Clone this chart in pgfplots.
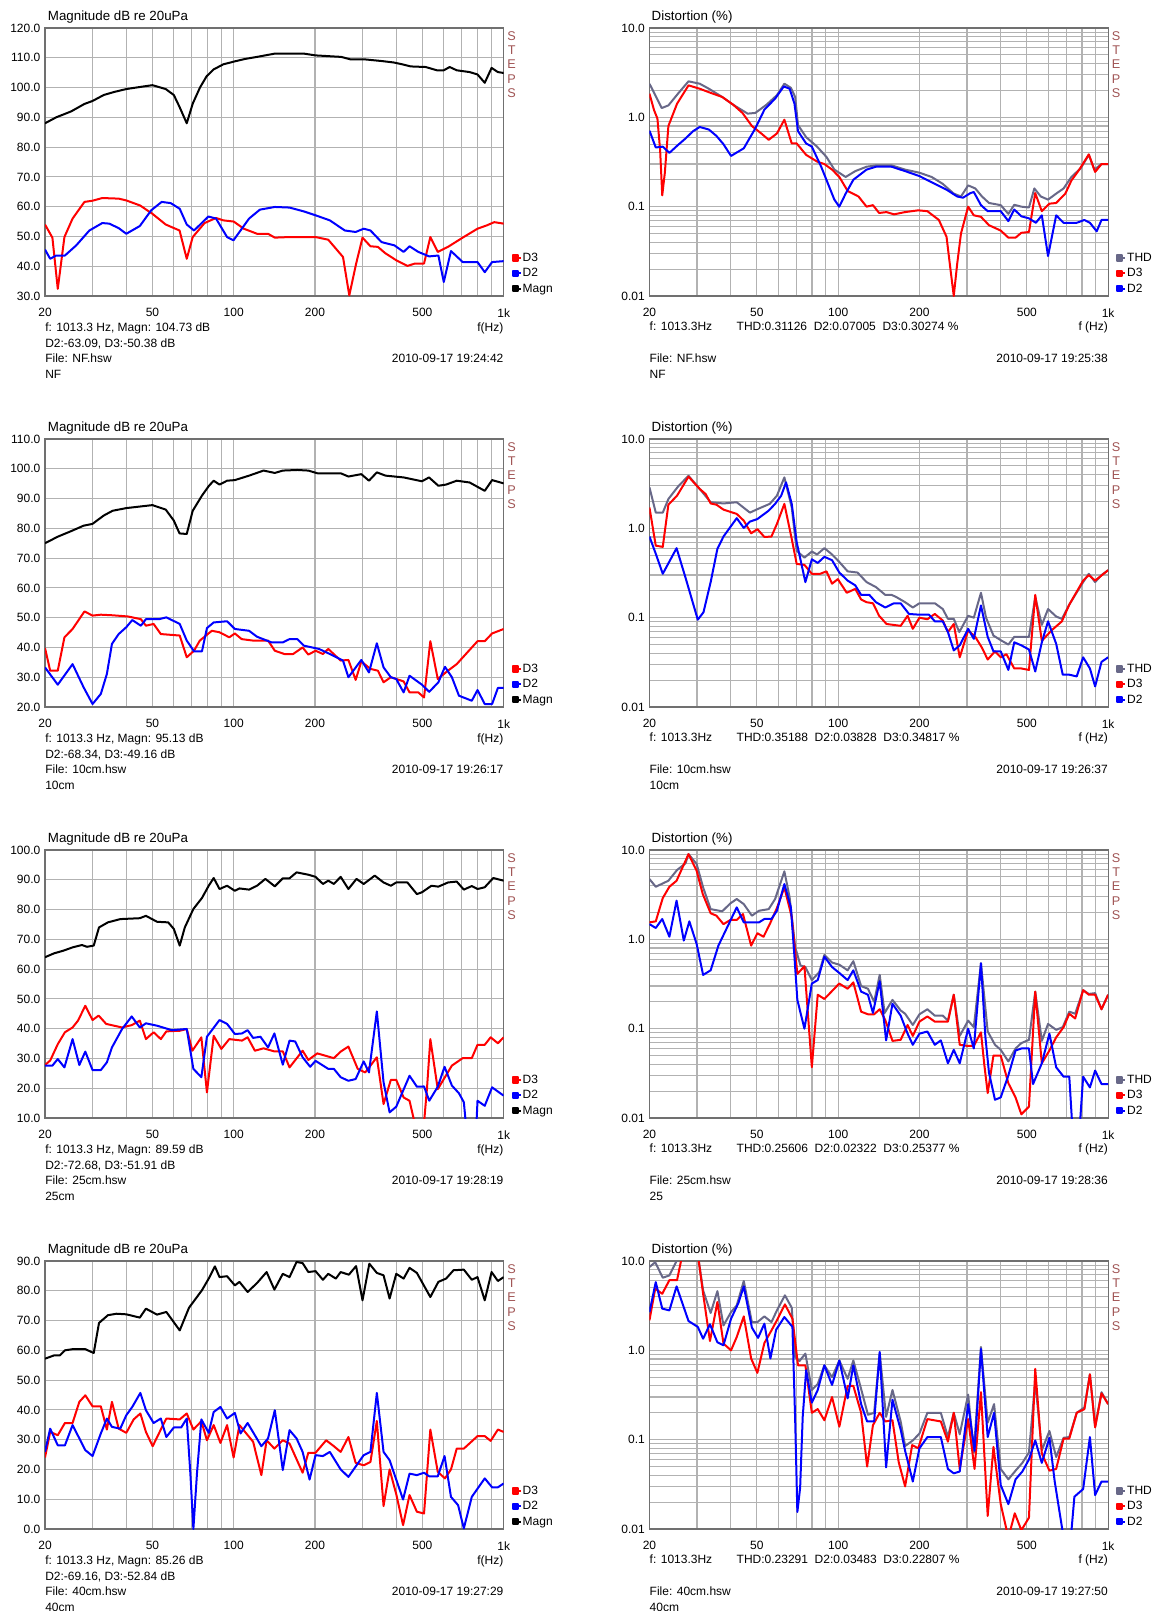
\documentclass[border=0pt]{standalone}
\usepackage{fontspec}
\setmainfont{Liberation Sans}
\usepackage{pgfplots}
\pgfplotsset{compat=1.18}

\definecolor{gridc}{RGB}{178,178,178}
\definecolor{framec}{RGB}{112,112,112}
\definecolor{stepc}{RGB}{160,84,84}
\definecolor{thdc}{RGB}{104,104,136}
\definecolor{d3c}{RGB}{255,0,0}
\definecolor{d2c}{RGB}{0,0,255}

\newcommand\lab{\fontsize{9}{10}\selectfont}
\newcommand\ttl{\fontsize{10}{12}\selectfont}

\pgfplotsset{
  every axis/.append style={
    scale only axis, width=344pt, height=201pt, anchor=north west,
    xmin=20, xmax=1000,
    xtick={20,50,100,200,500,1000}, xticklabels={20,50,100,200,500,1k},
    minor xtick={30,40,60,70,80,90,300,400,600,700,800,900},
    grid=both,
    grid style={draw=gridc, line width=0.85pt},
    major grid style={draw=gridc, line width=0.85pt},
    minor grid style={draw=gridc, line width=0.85pt},
    axis line style={framec, line width=0.9pt},
    tick style={draw=none},
    tick label style={font=\lab},
    xticklabel style={yshift=-5.8pt},
    /pgf/number format/assume math mode=true,
    legend style={draw=none, fill=none, at={(1,0)}, anchor=south west,
      xshift=6pt, yshift=0.5pt, inner sep=0pt, row sep=2.4pt, font=\lab,
      nodes={inner sep=0.6pt, text height=6.5pt, text depth=1.5pt}},
    legend cell align=left,
  },
  every axis plot/.append style={line width=1.5pt, line join=round},
  legend image code/.code={\fill (0pt,-1.9pt) rectangle (3.8pt,1.9pt); \path (0pt,0pt) -- (6pt,0pt);},
}

\tikzset{
  note/.style={inner sep=0pt, font=\lab},
  steps/.style={anchor=north, inner sep=0pt, align=center, text=stepc,
    font=\fontsize{9.5}{10.8}\selectfont},
}

% #1 axis name, #2 first line, #3 second line, #4 file, #5 date, #6 last line
\newcommand\magnotes[6]{%
  \node[note, font=\ttl, anchor=base west] at ([xshift=2pt,yshift=5.6pt]#1.north west) {Magnitude dB re 20uPa};
  \node[steps] at ([xshift=6pt,yshift=-2.3pt]#1.north east) {S\\T\\E\\P\\S};
  \node[note, anchor=base west] at ([yshift=-26.3pt]#1.south west) {#2};
  \node[note, anchor=base east] at ([yshift=-26.3pt]#1.south east) {f(Hz)};
  \node[note, anchor=base west] at ([yshift=-38.3pt]#1.south west) {#3};
  \node[note, anchor=base west] at ([yshift=-49.7pt]#1.south west) {File: #4};
  \node[note, anchor=base east] at ([yshift=-49.7pt]#1.south east) {#5};
  \node[note, anchor=base west] at ([yshift=-61.7pt]#1.south west) {#6};
}
% #1 axis name, #2 THD line, #3 file, #4 date, #5 last line
\newcommand\distnotes[5]{%
  \node[note, font=\ttl, anchor=base west] at ([xshift=1.5pt,yshift=5.6pt]#1.north west) {Distortion (\%)};
  \node[steps] at ([xshift=6pt,yshift=-2.3pt]#1.north east) {S\\T\\E\\P\\S};
  \node[note, anchor=base west] at ([yshift=-25.8pt]#1.south west) {f: 1013.3Hz};
  \node[note, anchor=base west] at ([xshift=65.2pt,yshift=-25.8pt]#1.south west) {#2};
  \node[note, anchor=base east] at ([yshift=-25.8pt]#1.south east) {f (Hz)};
  \node[note, anchor=base west] at ([yshift=-49.7pt]#1.south west) {File: #3};
  \node[note, anchor=base east] at ([yshift=-49.7pt]#1.south east) {#4};
  \node[note, anchor=base west] at ([yshift=-61.7pt]#1.south west) {#5};
}

\begin{document}
\begin{tikzpicture}
\path[use as bounding box] (0pt,0pt) rectangle (864pt,-1208.25pt);

%% ---------- row 1: NF ----------
\begin{axis}[name=m1, at={(33.75pt,-21pt)}, xmode=log, ymin=30, ymax=120, ytick distance=10,
  yticklabel style={/pgf/number format/.cd, fixed, fixed zerofill, precision=1}]
\addplot[d3c] coordinates {(20,54) (21.3,49.6) (22.3,32.4) (23.6,49.8) (25.3,56) (28,61.6) (30,62) (32.6,62.9) (37.5,62.7) (40,62.1) (45,60.4) (50,57.6) (56,54) (63,52) (67,42.5) (70.5,49.8) (78,54.5) (86,56.2) (91.5,55.4) (100,55) (109,52.6) (122,50.9) (134,50.9) (142,49.6) (161,49.8) (201,49.8) (224,48.9) (254,43.1) (268,30.2) (284,40.8) (300,49.6) (321,46.7) (342,46.5) (364,44.4) (400,42) (440,40.1) (469,40.9) (507,40.9) (535,49.8) (570,44.8) (622,46.5) (705,49.6) (800,52.6) (865,53.7) (923,54.8) (1000,54.3)};
\addlegendentry{D3}
\addplot[d2c] coordinates {(20,45.6) (20.9,42.5) (22,43.6) (23.7,43.6) (26.1,47) (29.2,52) (32.6,54.5) (34.6,54.3) (37.5,52.8) (40,50.9) (44.9,53.5) (49.5,58.8) (54.1,61.6) (58.4,61.2) (63.1,59.3) (67,54) (71.3,52) (80.6,56.7) (86,56) (94.5,49.8) (99.8,48.7) (114,56) (125,59) (142,59.9) (161,59.7) (182,58.4) (201,57.1) (227,55.4) (258,52) (283,51.5) (303,52.6) (321,52) (353,48.1) (394,47) (426,44.8) (448,46.7) (483,44.8) (530,43.3) (573,43.6) (600,34.7) (638,45.1) (705,41.4) (800,41.4) (851,38) (906,41.4) (1000,41.7)};
\addlegendentry{D2}
\addplot[black] coordinates {(20,88) (22,90) (25,92) (28,94.5) (30,95.5) (33,97.5) (36,98.5) (40,99.5) (45,100.2) (50,100.8) (56,99.5) (60,97.5) (63,93.5) (67,88) (70.5,94.6) (75,100) (79.4,103.8) (84.3,106.1) (91.5,107.8) (101,108.8) (110,109.6) (122,110.3) (142,111.4) (182,111.4) (201,110.8) (250,110.3) (270,109.5) (303,109.5) (354,108.9) (393,108.4) (426,107.7) (452,107.1) (514,106.9) (566,105.8) (600,105.8) (631,106.9) (670,105.8) (748,105.2) (800,104.4) (851,101.6) (902,106.6) (952,105.2) (1000,104.9)};
\addlegendentry{Magn}
\end{axis}
\magnotes{m1}{f: 1013.3 Hz, Magn: 104.73 dB}{D2:-63.09, D3:-50.38 dB}{NF.hsw}{2010-09-17 19:24:42}{NF}

\begin{axis}[name=d1, at={(487.1pt,-21pt)}, xmode=log, ymode=log, ymin=0.01, ymax=10,
  ytick={0.01,0.1,1,10}, yticklabels={0.01,0.1,1.0,10.0},
  minor ytick={0.02,0.03,0.04,0.05,0.06,0.07,0.08,0.09,0.2,0.3,0.4,0.5,0.6,0.7,0.8,0.9,2,3,4,5,6,7,8,9}]
\addplot[thdc] coordinates {(20,2.38) (22.2,1.27) (23.5,1.36) (25.5,1.84) (27.9,2.53) (30.7,2.38) (33.2,2.09) (37.2,1.69) (40.9,1.38) (46.2,1.1) (49.3,1.12) (54.2,1.38) (59.3,1.77) (63.2,2.38) (66.8,2.14) (69.3,1.69) (71,0.82) (76.1,0.6) (83.5,0.47) (90.5,0.36) (96.8,0.26) (106.6,0.215) (115.7,0.25) (127.4,0.28) (138,0.29) (157.7,0.29) (177,0.26) (200,0.24) (222,0.215) (244,0.18) (268,0.14) (285,0.13) (303,0.173) (322,0.16) (341,0.13) (362,0.11) (400,0.104) (427,0.083) (449,0.105) (477,0.1) (509,0.098) (533,0.16) (563,0.13) (599,0.12) (642,0.14) (684,0.16) (731,0.215) (792,0.27) (848,0.38) (889,0.26) (945,0.3) (1000,0.3)};
\addlegendentry{THD}
\addplot[d3c] coordinates {(20,1.84) (20.8,1.2) (21.4,0.97) (21.9,0.43) (22.3,0.134) (22.8,0.24) (23.5,0.8) (25.3,1.42) (27.9,2.28) (30.7,2.09) (33.7,1.88) (37.2,1.69) (40.9,1.38) (44.2,1.12) (47.9,0.8) (51.9,0.66) (55.3,0.56) (59.3,0.66) (63.2,0.94) (67.3,0.51) (70.2,0.51) (76.1,0.38) (83.5,0.32) (88.9,0.3) (94.9,0.26) (101,0.215) (108.4,0.15) (118.9,0.13) (127.4,0.1) (134.5,0.104) (141.8,0.085) (151,0.087) (161,0.082) (177,0.087) (198,0.091) (214,0.089) (236,0.071) (252,0.046) (260,0.021) (268,0.01) (276,0.023) (285,0.05) (303,0.1) (318,0.08) (338,0.077) (362,0.062) (400,0.054) (427,0.045) (454,0.045) (477,0.051) (509,0.052) (537,0.142) (568,0.089) (606,0.108) (642,0.11) (694,0.14) (731,0.196) (782,0.26) (848,0.385) (895,0.245) (945,0.3) (1000,0.3)};
\addlegendentry{D3}
\addplot[d2c] coordinates {(20,0.71) (21.1,0.46) (22.4,0.47) (23.7,0.4) (25.5,0.49) (27.2,0.58) (29,0.7) (30.7,0.78) (33.2,0.73) (35.4,0.62) (37.6,0.5) (40.1,0.37) (44.7,0.45) (49.3,0.75) (53.3,1.22) (58.4,1.62) (62.9,2.22) (66.1,2.09) (68.9,1.42) (71,0.7) (76.1,0.51) (79.9,0.47) (86.5,0.28) (92.4,0.17) (96.8,0.12) (100.9,0.1) (106.6,0.14) (113.8,0.2) (127.4,0.26) (138,0.28) (157.7,0.28) (177,0.25) (200,0.22) (228,0.18) (252,0.155) (276,0.13) (290,0.126) (309,0.142) (318,0.146) (338,0.104) (358,0.089) (400,0.089) (427,0.069) (449,0.093) (477,0.078) (509,0.074) (540,0.066) (568,0.08) (599,0.028) (642,0.08) (684,0.066) (765,0.066) (817,0.071) (856,0.066) (907,0.053) (945,0.071) (1000,0.071)};
\addlegendentry{D2}
\end{axis}
\distnotes{d1}{THD:0.31126\hspace{5pt}D2:0.07005\hspace{5pt}D3:0.30274 \%}{NF.hsw}{2010-09-17 19:25:38}{NF}

%% ---------- row 2: 10cm ----------
\begin{axis}[name=m2, at={(33.75pt,-329.25pt)}, xmode=log, ymin=20, ymax=110, ytick distance=10,
  yticklabel style={/pgf/number format/.cd, fixed, fixed zerofill, precision=1}]
\addplot[d3c] coordinates {(20,39.8) (20.9,32.2) (22.3,32.2) (23.6,43.4) (25.3,46.2) (28,52.1) (30,50.7) (32.2,51) (35.6,50.8) (40.6,50.4) (45.3,49.5) (47.3,47.3) (50.5,47.9) (53.7,44.5) (63.1,44) (67,36.7) (71.3,38.9) (74.9,42.3) (83,45.6) (88.6,45.1) (96.3,43.4) (101,44.7) (107,42.8) (118,42.3) (134,42.3) (142,38.9) (154,37.8) (166,37.8) (180,40) (189,37.6) (201,38.9) (214,37.8) (224,39.5) (249,35.6) (266,35.8) (283,29.1) (297,35.3) (321,32.8) (342,32.2) (359,28.3) (382,30) (426,28.6) (448,24.9) (483,24.9) (507,23.2) (535,42.1) (570,29.4) (622,32.2) (670,34.4) (800,42.1) (851,42.1) (906,44.7) (1000,46.2)};
\addlegendentry{D3}
\addplot[d2c] coordinates {(20,33.3) (22.3,27.5) (25.3,34.4) (27.8,26.6) (30,21) (32.2,24.4) (33.9,31.1) (35.4,41.2) (37.5,44.5) (40,46.8) (42.1,49.2) (45.3,47.3) (47.3,49.5) (52.9,49.5) (56.3,50.1) (63.1,47.9) (67,42.3) (71.3,38.7) (76.3,38.7) (79.6,46.5) (84.3,48.4) (94.5,48.8) (101,46.2) (114,45.6) (122,43.6) (138,41.7) (152,41.7) (161,42.8) (172,42.8) (182,40.6) (207,39.5) (227,37.8) (254,35.6) (266,30) (297,35.8) (317,31.6) (339,41.4) (359,33.3) (382,30) (400,29.4) (426,24.9) (448,30.5) (498,27.5) (530,25.1) (573,28.3) (606,33.5) (643,30) (683,23.8) (762,22.1) (800,25.7) (851,21) (906,21) (952,26.4) (1000,26.4)};
\addlegendentry{D2}
\addplot[black] coordinates {(20,75) (22.3,77.2) (24.9,79) (27.8,80.9) (30,81.5) (33,84.3) (35.6,85.9) (40,86.8) (44.7,87.3) (50,87.8) (56,86.3) (60,82.6) (63,78.3) (67,78.1) (70.5,85.9) (76.3,91) (81,94.3) (84.3,96) (88.6,94.7) (94.5,96) (101,96.2) (114,97.7) (129,99.4) (142,98.6) (152,99.4) (172,99.6) (189,99.4) (204,98.5) (249,98.5) (266,97.4) (297,98.2) (317,96) (339,98.8) (365,97.7) (426,97.1) (498,95.8) (529,97.1) (573,94.3) (612,94.7) (670,96) (748,95.4) (851,92.6) (906,96.2) (1000,95.1)};
\addlegendentry{Magn}
\end{axis}
\magnotes{m2}{f: 1013.3 Hz, Magn: 95.13 dB}{D2:-68.34, D3:-49.16 dB}{10cm.hsw}{2010-09-17 19:26:17}{10cm}

\begin{axis}[name=d2, at={(487.1pt,-329.25pt)}, xmode=log, ymode=log, ymin=0.01, ymax=10,
  ytick={0.01,0.1,1,10}, yticklabels={0.01,0.1,1.0,10.0},
  minor ytick={0.02,0.03,0.04,0.05,0.06,0.07,0.08,0.09,0.2,0.3,0.4,0.5,0.6,0.7,0.8,0.9,2,3,4,5,6,7,8,9}]
\addplot[thdc] coordinates {(20,2.88) (21.1,1.5) (22.4,1.5) (23.5,2.13) (25.5,2.93) (27.9,3.88) (30.7,2.76) (33.7,1.96) (37.6,1.9) (42.1,1.96) (47.1,1.5) (50.9,1.67) (55.8,1.88) (59.3,2.32) (63.2,3.72) (67.3,1.71) (70.2,0.56) (75,0.47) (79.9,0.55) (83.5,0.51) (88.9,0.6) (94.9,0.51) (101,0.42) (108.4,0.33) (117.9,0.32) (127.4,0.25) (138,0.22) (149.4,0.18) (157.7,0.18) (164.3,0.17) (177,0.149) (189,0.13) (200,0.145) (228,0.145) (244,0.125) (255,0.097) (268,0.097) (281,0.069) (303,0.105) (318,0.1) (338,0.19) (353,0.1) (376,0.063) (400,0.056) (427,0.05) (449,0.061) (477,0.061) (509,0.061) (537,0.17) (568,0.083) (599,0.125) (642,0.103) (674,0.097) (718,0.14) (755,0.18) (808,0.25) (848,0.31) (895,0.25) (945,0.3) (1000,0.34)};
\addlegendentry{THD}
\addplot[d3c] coordinates {(20,1.71) (21.1,0.64) (22.4,0.62) (23.5,1.84) (25.3,2.32) (27.9,3.79) (30.7,2.76) (32.3,2.42) (33.7,1.9) (35.4,1.84) (37.6,1.62) (42.1,1.45) (44.7,1.22) (47.6,0.88) (50.2,0.98) (53.3,0.8) (56.6,0.81) (59.3,1.12) (63.2,1.88) (67.3,0.76) (70.2,0.4) (75,0.39) (79.9,0.31) (85.8,0.31) (90.5,0.33) (94.9,0.24) (99.7,0.27) (107.6,0.19) (115.7,0.21) (121.6,0.16) (127.4,0.149) (134.5,0.145) (141.8,0.105) (151,0.085) (170.4,0.081) (180.8,0.105) (189,0.075) (200,0.1) (214,0.096) (228,0.11) (244,0.093) (255,0.069) (268,0.085) (282,0.036) (303,0.072) (322,0.061) (341,0.046) (358,0.034) (381,0.042) (400,0.036) (420,0.039) (449,0.027) (477,0.027) (509,0.026) (537,0.18) (568,0.055) (617,0.072) (674,0.091) (718,0.14) (808,0.26) (848,0.3) (895,0.26) (1000,0.34)};
\addlegendentry{D3}
\addplot[d2c] coordinates {(20,0.81) (21.1,0.52) (22.4,0.31) (25.2,0.6) (27.2,0.28) (30.2,0.095) (31.7,0.115) (33.7,0.25) (35.7,0.59) (37.6,0.81) (42.1,1.3) (44.7,1.01) (47.1,1.19) (50.2,1.27) (55.3,1.58) (58.4,1.88) (61.5,2.32) (64.1,3.27) (67.3,1.88) (70.2,0.7) (75.6,0.25) (79.9,0.45) (84,0.41) (88.9,0.48) (94.9,0.44) (101,0.32) (108.4,0.26) (115.7,0.23) (121.6,0.18) (130.4,0.18) (138,0.149) (149.4,0.13) (161,0.145) (170.4,0.145) (183,0.11) (200,0.108) (217,0.108) (228,0.091) (244,0.091) (255,0.069) (268,0.043) (282,0.049) (303,0.075) (318,0.058) (338,0.137) (358,0.061) (376,0.042) (400,0.042) (427,0.026) (449,0.053) (477,0.049) (509,0.044) (537,0.025) (568,0.053) (599,0.091) (642,0.051) (679,0.023) (718,0.023) (765,0.022) (808,0.036) (856,0.027) (895,0.017) (945,0.032) (1000,0.036)};
\addlegendentry{D2}
\end{axis}
\distnotes{d2}{THD:0.35188\hspace{5pt}D2:0.03828\hspace{5pt}D3:0.34817 \%}{10cm.hsw}{2010-09-17 19:26:37}{10cm}

%% ---------- row 3: 25cm ----------
\begin{axis}[name=m3, at={(33.75pt,-637.5pt)}, xmode=log, ymin=10, ymax=100, ytick distance=10,
  yticklabel style={/pgf/number format/.cd, fixed, fixed zerofill, precision=1}]
\addplot[d3c] coordinates {(20,27.8) (20.9,29.3) (22.3,34.8) (23.7,38.8) (25.3,40.4) (26.5,42.7) (28.2,47.7) (30,42.9) (31.6,44.4) (33.7,41.6) (38.6,40.4) (41.9,41.2) (44.9,42.7) (47.3,36.5) (50.5,38.8) (53.7,36.5) (56.3,39.1) (63.1,39.3) (67,39.9) (70.3,32.6) (75.9,37.1) (79.6,18.6) (84.3,37.6) (90,33.2) (96.3,36.5) (107.3,36) (112.6,37.1) (119.8,32.6) (129,33.4) (141,32.4) (152,32.4) (161,27) (180,32.6) (189,29.5) (204,31.7) (235,30.1) (249,32.3) (266,34) (288,26.5) (307,25.3) (339,30.4) (359,14.7) (382,22.8) (400,22.8) (426,16.9) (448,15.8) (469,8) (500,2) (520,20) (535,36.5) (570,19.7) (643,27.6) (705,30.1) (762,30.1) (800,34.6) (851,34.6) (895,37.1) (952,35.1) (1000,37.1)};
\addlegendentry{D3}
\addplot[d2c] coordinates {(20,27.6) (21.3,27.6) (22.3,29.8) (23.6,27) (25.3,36.5) (26.8,27.8) (28.2,32.3) (30,26.1) (32.2,26.1) (33.9,28.7) (35.4,33.7) (38.6,39.9) (41.9,44.1) (44.9,40.4) (47.3,41.8) (52,41) (59,39.5) (67,39.9) (70.9,26.5) (75.9,23.7) (79.6,37.3) (88.6,42.9) (94.5,41.6) (101,38.2) (107.3,38.4) (112.6,39.5) (118,36.9) (125.6,37.3) (134,33.7) (141.5,38.4) (152,27.9) (161,36) (169,35.7) (180,30.4) (192,27.2) (201,29.2) (224,26.5) (235,26.5) (249,23.7) (266,22.5) (283,23.1) (303,29) (317,25.3) (339,45.8) (359,22) (378,11.9) (400,13.8) (448,24.2) (477,20.5) (507,20.6) (530,15.8) (570,20.5) (604,27.2) (643,20.9) (683,18.3) (712,15.3) (730,5) (780,0) (790,5) (800,15.8) (851,14.1) (906,20.3) (1000,17.5)};
\addlegendentry{D2}
\addplot[black] coordinates {(20,64) (21.6,65.3) (23.4,66.2) (25.3,67.3) (27.4,68.1) (28.6,67.5) (30.3,67.9) (31.7,74) (34.2,75.7) (38,76.8) (44.9,77.1) (47.3,77.9) (52,75.9) (57.2,75.7) (60,73.5) (63.1,67.9) (65.9,74) (70.9,80.2) (76.3,83.9) (80.8,88) (84.3,90.6) (88.6,86.9) (94.5,88) (101,86.3) (105,87.1) (114,86.7) (122,88) (131,90.3) (142,87.8) (152,90.5) (161,90.5) (171,92.5) (189,91.7) (201,91) (214,88.6) (224,89.7) (235,88.6) (249,91) (266,86.9) (285,90.3) (303,88.6) (333,91.4) (359,89.1) (382,88) (400,89.1) (440,89.1) (477,85.2) (498,85.8) (540,88) (573,87.7) (622,89.1) (670,89.4) (712,86.7) (762,87.9) (800,86.9) (851,87.5) (915,90.6) (1000,89.7)};
\addlegendentry{Magn}
\end{axis}
\magnotes{m3}{f: 1013.3 Hz, Magn: 89.59 dB}{D2:-72.68, D3:-51.91 dB}{25cm.hsw}{2010-09-17 19:28:19}{25cm}

\begin{axis}[name=d3, at={(487.1pt,-637.5pt)}, xmode=log, ymode=log, ymin=0.01, ymax=10,
  ytick={0.01,0.1,1,10}, yticklabels={0.01,0.1,1.0,10.0},
  minor ytick={0.02,0.03,0.04,0.05,0.06,0.07,0.08,0.09,0.2,0.3,0.4,0.5,0.6,0.7,0.8,0.9,2,3,4,5,6,7,8,9}]
\addplot[thdc] coordinates {(20,4.73) (21.1,3.88) (23.5,4.53) (25.3,5.97) (27.2,7.1) (27.9,9) (29.9,6.97) (31.6,3.82) (33.7,2.18) (37.2,2.06) (39.9,2.53) (42.1,2.83) (44.7,2.48) (47.9,1.84) (50.9,2.09) (55.3,2.18) (58.4,2.83) (63.2,5.77) (66.1,2.95) (69.3,0.82) (72.5,0.51) (75.6,0.49) (79.9,0.35) (85.1,0.43) (88.9,0.67) (94.9,0.55) (101,0.52) (108.4,0.45) (113.8,0.57) (121.6,0.3) (128.9,0.28) (135.9,0.2) (142.5,0.4) (148.6,0.15) (158.9,0.21) (170.4,0.16) (177,0.147) (189,0.11) (200,0.145) (214,0.165) (228,0.14) (244,0.14) (255,0.123) (268,0.24) (282,0.083) (303,0.123) (318,0.104) (338,0.54) (358,0.093) (381,0.066) (400,0.058) (427,0.043) (454,0.06) (477,0.069) (509,0.075) (537,0.26) (568,0.073) (599,0.113) (642,0.097) (679,0.104) (718,0.155) (755,0.147) (808,0.27) (848,0.245) (895,0.25) (945,0.165) (1000,0.24)};
\addlegendentry{THD}
\addplot[d3c] coordinates {(20,1.55) (21.1,1.59) (22.4,2.9) (23.7,3.88) (25.2,4.53) (27.9,9) (29.9,5.87) (31.5,3.22) (33.7,1.96) (35.4,1.84) (37.6,1.48) (39.9,1.65) (42.1,1.65) (44.4,1.92) (47.6,0.85) (50.2,1.17) (52.9,1.07) (55.8,1.48) (59.3,2.24) (63.2,3.82) (67.3,1.77) (70.6,0.41) (75,0.5) (79.9,0.037) (84,0.24) (88.9,0.215) (100.9,0.32) (108.4,0.28) (113.8,0.33) (121.6,0.155) (128.9,0.145) (135.9,0.145) (142.5,0.165) (149.4,0.125) (158.9,0.073) (170.4,0.075) (180.8,0.11) (189,0.083) (200,0.12) (214,0.137) (228,0.12) (255,0.12) (268,0.24) (282,0.066) (303,0.064) (318,0.064) (338,0.091) (348,0.039) (358,0.019) (376,0.05) (400,0.05) (427,0.0245) (454,0.017) (477,0.011) (509,0.0134) (537,0.26) (568,0.041) (606,0.057) (642,0.08) (684,0.104) (718,0.147) (755,0.13) (808,0.27) (848,0.24) (895,0.24) (945,0.165) (1000,0.24)};
\addlegendentry{D3}
\addplot[d2c] coordinates {(20,1.48) (21.1,1.34) (22.3,1.69) (23.7,1.07) (25.2,2.71) (26.8,0.97) (28.1,1.59) (29.9,0.89) (31.6,0.4) (33.7,0.45) (36,0.85) (39.6,1.55) (42.1,2.28) (44.7,1.55) (50.9,1.55) (53.3,1.69) (56.6,1.69) (59.3,2.09) (63.2,4.16) (66.8,2.28) (68.9,0.63) (70.6,0.21) (75,0.1) (79.9,0.32) (84,0.35) (88.9,0.64) (94.9,0.49) (101,0.42) (108.4,0.35) (113.8,0.45) (121.6,0.26) (128.9,0.24) (134.5,0.15) (142.5,0.34) (150.5,0.074) (158.9,0.19) (170.4,0.14) (180.8,0.088) (189,0.066) (200,0.088) (214,0.093) (228,0.066) (240,0.074) (255,0.041) (268,0.058) (282,0.041) (303,0.1) (318,0.06) (338,0.54) (351,0.081) (362,0.032) (381,0.016) (400,0.017) (427,0.03) (454,0.057) (477,0.06) (509,0.06) (527,0.024) (568,0.041) (606,0.088) (642,0.037) (684,0.029) (718,0.029) (741,0.006) (780,0.006) (808,0.029) (856,0.022) (895,0.034) (945,0.024) (1000,0.024)};
\addlegendentry{D2}
\end{axis}
\distnotes{d3}{THD:0.25606\hspace{5pt}D2:0.02322\hspace{5pt}D3:0.25377 \%}{25cm.hsw}{2010-09-17 19:28:36}{25}

%% ---------- row 4: 40cm ----------
\begin{axis}[name=m4, at={(33.75pt,-945.75pt)}, xmode=log, ymin=0, ymax=90, ytick distance=10,
  yticklabel style={/pgf/number format/.cd, fixed, fixed zerofill, precision=1}]
\addplot[d3c] coordinates {(20,24) (20.9,32.6) (22.3,31.5) (23.7,35.6) (25.3,35.6) (26.8,42.7) (28.2,44.9) (30,41.2) (32.2,41.2) (33.9,33.4) (35.4,42.7) (37.5,33.7) (40,32.3) (42.6,36.8) (45.1,38.8) (47.3,32.6) (50.1,27.8) (53.7,33.4) (56.3,37.1) (63.1,36.8) (67,38.8) (70.9,33.4) (75.9,36.2) (79.6,29.8) (84.3,34.9) (89.3,28.9) (94.5,34.9) (99.9,24) (105,34.9) (118,29.3) (126.6,18.1) (132.4,29.8) (141.5,27) (152,29.8) (161,28.7) (180,18.9) (189,25.6) (201,25.6) (220,29.8) (235,27.8) (249,25.9) (266,30.9) (283,22.2) (303,21.4) (321,22.5) (339,36.3) (359,7.7) (378,20) (400,11.7) (424,1.3) (448,11.4) (477,5.8) (507,5.2) (535,33.4) (570,19.2) (606,17) (638,20) (670,27) (712,27) (800,31.2) (851,31.2) (895,29.6) (952,33.4) (1000,32.6)};
\addlegendentry{D3}
\addplot[d2c] coordinates {(20,25.9) (20.9,33.7) (22.3,28.1) (23.7,28.1) (25.3,34.9) (28.2,26.5) (30,24.5) (32.2,32.1) (33.9,37.1) (35.4,34.3) (38,33.7) (40,38.2) (42.1,41) (45.1,45.7) (47.3,39.9) (50.5,35.6) (53.7,37.1) (56.3,30.9) (60,34.1) (63.9,34.1) (67,37.1) (69.1,18.6) (70.9,0) (73.1,18.6) (75.9,36.8) (80.8,32.3) (84.3,39.3) (89.3,41) (94.5,37.1) (101,39) (106,32.1) (112.6,35.6) (126.6,27.8) (134,30.4) (142,39.9) (152,19.8) (161,33.2) (171,30.4) (180,25.9) (191,16.6) (201,24.8) (214,24.5) (227,25.9) (249,20) (266,17.5) (303,24.8) (321,25.9) (339,45.7) (359,25.9) (378,23.1) (424,9.9) (448,18.6) (477,18.1) (507,18.9) (530,17.7) (570,17.7) (604,24.5) (638,10.8) (678,8) (712,0.2) (762,10.8) (851,17) (906,14) (952,14) (1000,15.3)};
\addlegendentry{D2}
\addplot[black] coordinates {(20,57.2) (21.6,58.3) (22.7,58.3) (23.7,60) (25.3,60.4) (28.2,60.4) (30.3,59.1) (31.7,69.2) (34.2,71.8) (36.8,72.3) (40,72.1) (44.9,71) (47.3,74) (52,72) (56.3,72.9) (63.1,66.7) (68.3,74.3) (76.3,80.2) (80.8,84.1) (85.2,88.2) (88.6,84.6) (94.5,84.9) (101,81.8) (105,83) (112.6,79.6) (122,82.6) (132.4,86.3) (141.5,80.4) (152,85.7) (161,84.6) (171,89.7) (180,89.3) (189,86.3) (201,86.6) (214,83.7) (224,85.7) (239,84.1) (249,86.3) (267,85.4) (284,88.3) (300,76.8) (318,89.1) (339,86) (359,85.2) (378,77.4) (400,85.7) (426,84.1) (448,87.7) (477,86) (535,77.9) (573,83) (612,84.1) (652,86.9) (712,87.1) (762,83.7) (800,84.6) (851,76.8) (902,86.3) (952,83.3) (1000,84.6)};
\addlegendentry{Magn}
\end{axis}
\magnotes{m4}{f: 1013.3 Hz, Magn: 85.26 dB}{D2:-69.16, D3:-52.84 dB}{40cm.hsw}{2010-09-17 19:27:29}{40cm}

\begin{axis}[name=d4, at={(487.1pt,-945.75pt)}, xmode=log, ymode=log, ymin=0.01, ymax=10,
  ytick={0.01,0.1,1,10}, yticklabels={0.01,0.1,1.0,10.0},
  minor ytick={0.02,0.03,0.04,0.05,0.06,0.07,0.08,0.09,0.2,0.3,0.4,0.5,0.6,0.7,0.8,0.9,2,3,4,5,6,7,8,9}]
\addplot[thdc] coordinates {(20,8.57) (21,9.7) (22.4,6.5) (23.7,6.9) (25.2,10) (26.3,12) (30.2,12) (31.6,4.7) (33.7,2.62) (35.7,4.6) (37.6,1.9) (40.1,2.68) (42.1,3.19) (44.7,5.97) (47.9,2.07) (50.2,2.07) (53.3,2.4) (56.6,2.07) (59.3,2.8) (63.5,4.13) (67.3,3) (69.3,0.84) (71.9,0.76) (75.6,0.92) (79.9,0.36) (84,0.42) (88.9,0.68) (94.9,0.5) (101,0.77) (108.4,0.48) (113.8,0.77) (121.6,0.37) (128.9,0.19) (135.9,0.2) (142.5,0.93) (150.5,0.18) (158.9,0.36) (170.4,0.16) (177,0.085) (189,0.098) (200,0.117) (214,0.2) (240,0.2) (255,0.107) (268,0.2) (282,0.115) (303,0.32) (318,0.072) (338,1.09) (358,0.155) (378,0.25) (400,0.047) (427,0.036) (454,0.045) (481,0.055) (509,0.072) (537,0.45) (568,0.076) (606,0.125) (642,0.064) (684,0.105) (718,0.107) (765,0.2) (817,0.23) (856,0.54) (895,0.14) (945,0.34) (1000,0.25)};
\addlegendentry{THD}
\addplot[d3c] coordinates {(20,2.17) (21,4.9) (22.3,4.3) (23.7,6.1) (25.3,6.1) (26.5,12) (30.2,12) (31.6,4.3) (33.5,1.27) (35.7,3.48) (37.6,1.19) (40.1,1) (42.1,1.41) (44.7,2.4) (47.6,0.81) (50.2,0.56) (53.3,1.21) (56.6,1.67) (59.3,2.17) (63.5,3.27) (67.7,2.26) (71,0.68) (75.6,0.68) (79.9,0.2) (84,0.22) (88.9,0.165) (94.9,0.3) (101,0.14) (108.4,0.4) (113.8,0.4) (121.6,0.2) (128,0.05) (134.5,0.145) (142.5,0.2) (149.4,0.16) (158.9,0.165) (167.6,0.056) (177,0.03) (188,0.087) (198,0.08) (214,0.17) (240,0.16) (255,0.095) (268,0.2) (282,0.047) (303,0.17) (320,0.047) (338,0.34) (358,0.014) (376,0.083) (400,0.019) (427,0.008) (451,0.015) (477,0.0097) (509,0.0134) (537,0.62) (568,0.07) (606,0.045) (642,0.047) (684,0.103) (718,0.103) (765,0.2) (817,0.22) (856,0.54) (895,0.137) (945,0.33) (1000,0.25)};
\addlegendentry{D3}
\addplot[d2c] coordinates {(20,2.68) (21.1,5.8) (22.3,2.93) (23.7,2.8) (25.2,5.2) (27.9,2.13) (30.2,1.83) (31.6,1.35) (33.5,1.96) (35.7,1.23) (37.6,1.14) (40.1,2.26) (42.7,3.39) (44.7,5.2) (47.9,1.8) (50.5,1.38) (53.3,1.99) (56.1,0.81) (58.9,1.7) (63.2,2.36) (67.7,1.83) (69.3,0.166) (70.6,0.0155) (72.3,0.029) (73.9,0.18) (76.1,0.6) (79.9,0.26) (84,0.36) (88.9,0.68) (94.9,0.41) (101,0.77) (108.4,0.29) (113.8,0.68) (121.6,0.25) (128,0.16) (135.9,0.16) (142.5,0.96) (150.5,0.049) (158.9,0.28) (170.4,0.13) (177,0.075) (189,0.034) (200,0.08) (214,0.107) (240,0.107) (255,0.047) (268,0.042) (282,0.044) (303,0.25) (320,0.075) (338,1.04) (358,0.107) (378,0.2) (400,0.031) (427,0.019) (454,0.036) (481,0.044) (509,0.06) (537,0.098) (568,0.055) (606,0.105) (634,0.034) (684,0.008) (718,0.005) (750,0.023) (808,0.028) (856,0.107) (895,0.024) (945,0.034) (1000,0.034)};
\addlegendentry{D2}
\end{axis}
\distnotes{d4}{THD:0.23291\hspace{5pt}D2:0.03483\hspace{5pt}D3:0.22807 \%}{40cm.hsw}{2010-09-17 19:27:50}{40cm}

\end{tikzpicture}
\end{document}
